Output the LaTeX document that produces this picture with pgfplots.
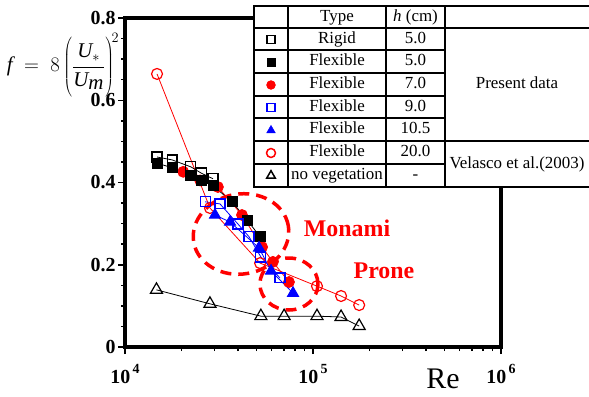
\documentclass[border=0pt]{standalone}
\usepackage{pgfplots}
\pgfplotsset{compat=1.18}
\usepackage{fontspec}
\setmainfont{Liberation Serif}
\definecolor{vred}{RGB}{255,0,0}
\definecolor{vblue}{RGB}{0,0,255}

\begin{document}
\begin{tikzpicture}[x=1bp,y=1bp]
\useasboundingbox (0,0) rectangle (589,396);

% ---------------- main axis: friction factor vs Reynolds number
\begin{axis}[
  at={(125bp,49bp)}, anchor=south west,
  scale only axis, width=376bp, height=329bp,
  xmode=log, xmin=1e4, xmax=1e6, ymin=0, ymax=0.8,
  axis line style={line width=3.5bp, line cap=rect},
  tick pos=left, tick align=outside,
  major tick length=7bp, minor tick length=4bp,
  tick style={black, line width=1.5bp},
  xtick={1e4,1e5,1e6},
  minor xtick={2e4,3e4,4e4,5e4,6e4,7e4,8e4,9e4,2e5,3e5,4e5,5e5,6e5,7e5,8e5,9e5},
  xticklabels={10\raisebox{0.5em}{\fontsize{14}{14}\selectfont\,4},
               10\raisebox{0.5em}{\fontsize{14}{14}\selectfont\,5},
               10\raisebox{0.5em}{\fontsize{14}{14}\selectfont\,6}},
  ytick={0,0.2,0.4,0.6,0.8},
  minor ytick={0.05,0.1,0.15,0.25,0.3,0.35,0.45,0.5,0.55,0.65,0.7,0.75},
  yticklabels={0,0.2,0.4,0.6,0.8},
  ticklabel style={font=\fontsize{20}{24}\selectfont\bfseries},
  xticklabel style={yshift=-7bp},
  yticklabel style={xshift=1bp},
  clip=false,
]
% no vegetation (Velasco et al. 2003)
\addplot[black, line width=0.8bp, mark=triangle, mark size=7,
  mark options={line width=1.2bp, fill=white}] coordinates {
  (14700,0.139) (28300,0.105) (52800,0.075) (70200,0.075)
  (105000,0.075) (141000,0.073) (176000,0.051)};
% flexible, h = 20.0 cm (Velasco et al. 2003)
\addplot[vred, line width=0.8bp, mark=o, mark size=5.5,
  mark options={line width=1.2bp, fill=white}] coordinates {
  (14800,0.664) (28300,0.338) (52300,0.204) (105000,0.148)
  (141000,0.124) (176000,0.102)};
% flexible, h = 7.0 cm
\addplot[vred, line width=0.8bp, mark=*, mark size=5.5,
  mark options={vred}] coordinates {
  (20400,0.426) (25100,0.405) (31200,0.389) (41900,0.321)
  (53600,0.243) (61200,0.207) (74500,0.158)};
% flexible, h = 5.0 cm
\addplot[black, line width=0.8bp, mark=square*, mark size=5,
  mark options={black}] coordinates {
  (14800,0.447) (17800,0.436) (22400,0.418) (25400,0.406)
  (29400,0.392) (37100,0.353) (44600,0.309) (52300,0.268)};
% rigid, h = 5.0 cm
\addplot[black, line width=0.8bp, mark=square, mark size=5,
  mark options={line width=1.2bp, fill=white}] coordinates {
  (14800,0.462) (17800,0.455) (22400,0.438) (25400,0.423) (29400,0.409)};
% flexible, h = 10.5 cm
\addplot[vblue, line width=0.8bp, mark=triangle*, mark size=6.5,
  mark options={vblue}] coordinates {
  (30100,0.321) (36200,0.304) (51600,0.241) (59800,0.185) (78300,0.131)};
% flexible, h = 9.0 cm
\addplot[vblue, line width=0.8bp, mark=square, mark size=5,
  mark options={line width=1.2bp, fill=white}] coordinates {
  (26700,0.353) (32000,0.348) (39900,0.299) (45700,0.268)
  (52800,0.219) (66700,0.168)};

% flow regimes
\draw[vred, line width=3.5bp, dash pattern=on 11bp off 7bp]
  (rel axis cs:0.3085,0.3435) ellipse [x radius=48bp, y radius=40bp, rotate=10];
\draw[vred, line width=3.5bp, dash pattern=on 11bp off 7bp]
  (rel axis cs:0.436,0.1915) ellipse [x radius=29bp, y radius=26bp];
\end{axis}

\node[vred, font=\fontsize{24}{28}\selectfont\bfseries] at (347,168) {Monami};
\node[vred, font=\fontsize{24}{28}\selectfont\bfseries] at (384,125) {Prone};

% axis titles
\node[font=\fontsize{30}{34}\selectfont] at (443,17) {Re};
\node[font=\fontsize{21}{24}\selectfont, inner sep=0pt] at (63,331)
  {$\textit{f}\;=\;8\left(\rule[-25bp]{0pt}{58bp}\displaystyle\frac{\textit{U}_{*}}{\textit{U}_{\textit{m}}}\right)^{\!2}$};

% ---------------- legend table
\fill[white] (254,209) rectangle (589,390);
\begin{scope}[line width=2.5bp, line cap=rect]
  \foreach \y in {346,323,300,278,232} \draw (254,\y) -- (445,\y);
  \foreach \y in {390,368,255,209} \draw (254,\y) -- (589,\y);
  \foreach \x in {254,288,386,445} \draw (\x,209) -- (\x,390);
\end{scope}
\begin{scope}[font=\fontsize{17}{20}\selectfont,
  every node/.style={text height=11.5bp, text depth=3.5bp, inner sep=0pt}]
  \node at (337,379) {Type};
  \node at (415.5,379) {\textit{h} (cm)};
  \node at (337,357) {Rigid};         \node at (415.5,357) {5.0};
  \node at (337,334.5) {Flexible};    \node at (415.5,334.5) {5.0};
  \node at (337,311.5) {Flexible};    \node at (415.5,311.5) {7.0};
  \node at (337,289) {Flexible};      \node at (415.5,289) {9.0};
  \node at (337,266.5) {Flexible};    \node at (415.5,266.5) {10.5};
  \node at (337,243.5) {Flexible};    \node at (415.5,243.5) {20.0};
  \node at (337,220.5) {no vegetation}; \node at (415.5,220.5) {-};
  \node at (517,311.5) {Present data};
  \node at (517,232) {Velasco et al.(2003)};
\end{scope}

% legend symbols, one per table row
\begin{axis}[
  at={(271bp,209bp)}, anchor=south,
  scale only axis, width=20bp, height=158.67bp,
  hide axis, xmin=-1, xmax=1, ymin=0.5, ymax=7.5, clip=false,
]
\addplot[only marks, mark=square, mark size=4,
  mark options={black, line width=1.5bp, fill=white}] coordinates {(0,7)};
\addplot[only marks, mark=square*, mark size=4,
  mark options={black}] coordinates {(0,6)};
\addplot[only marks, mark=*, mark size=4.5,
  mark options={vred}] coordinates {(0,5)};
\addplot[only marks, mark=square, mark size=4,
  mark options={vblue, line width=1.5bp, fill=white}] coordinates {(0,4)};
\addplot[only marks, mark=triangle*, mark size=5,
  mark options={vblue}] coordinates {(0,3)};
\addplot[only marks, mark=o, mark size=4.5,
  mark options={vred, line width=1.5bp, fill=white}] coordinates {(0,2)};
\addplot[only marks, mark=triangle, mark size=5,
  mark options={black, line width=1.5bp, fill=white}] coordinates {(0,1)};
\end{axis}
\end{tikzpicture}
\end{document}
